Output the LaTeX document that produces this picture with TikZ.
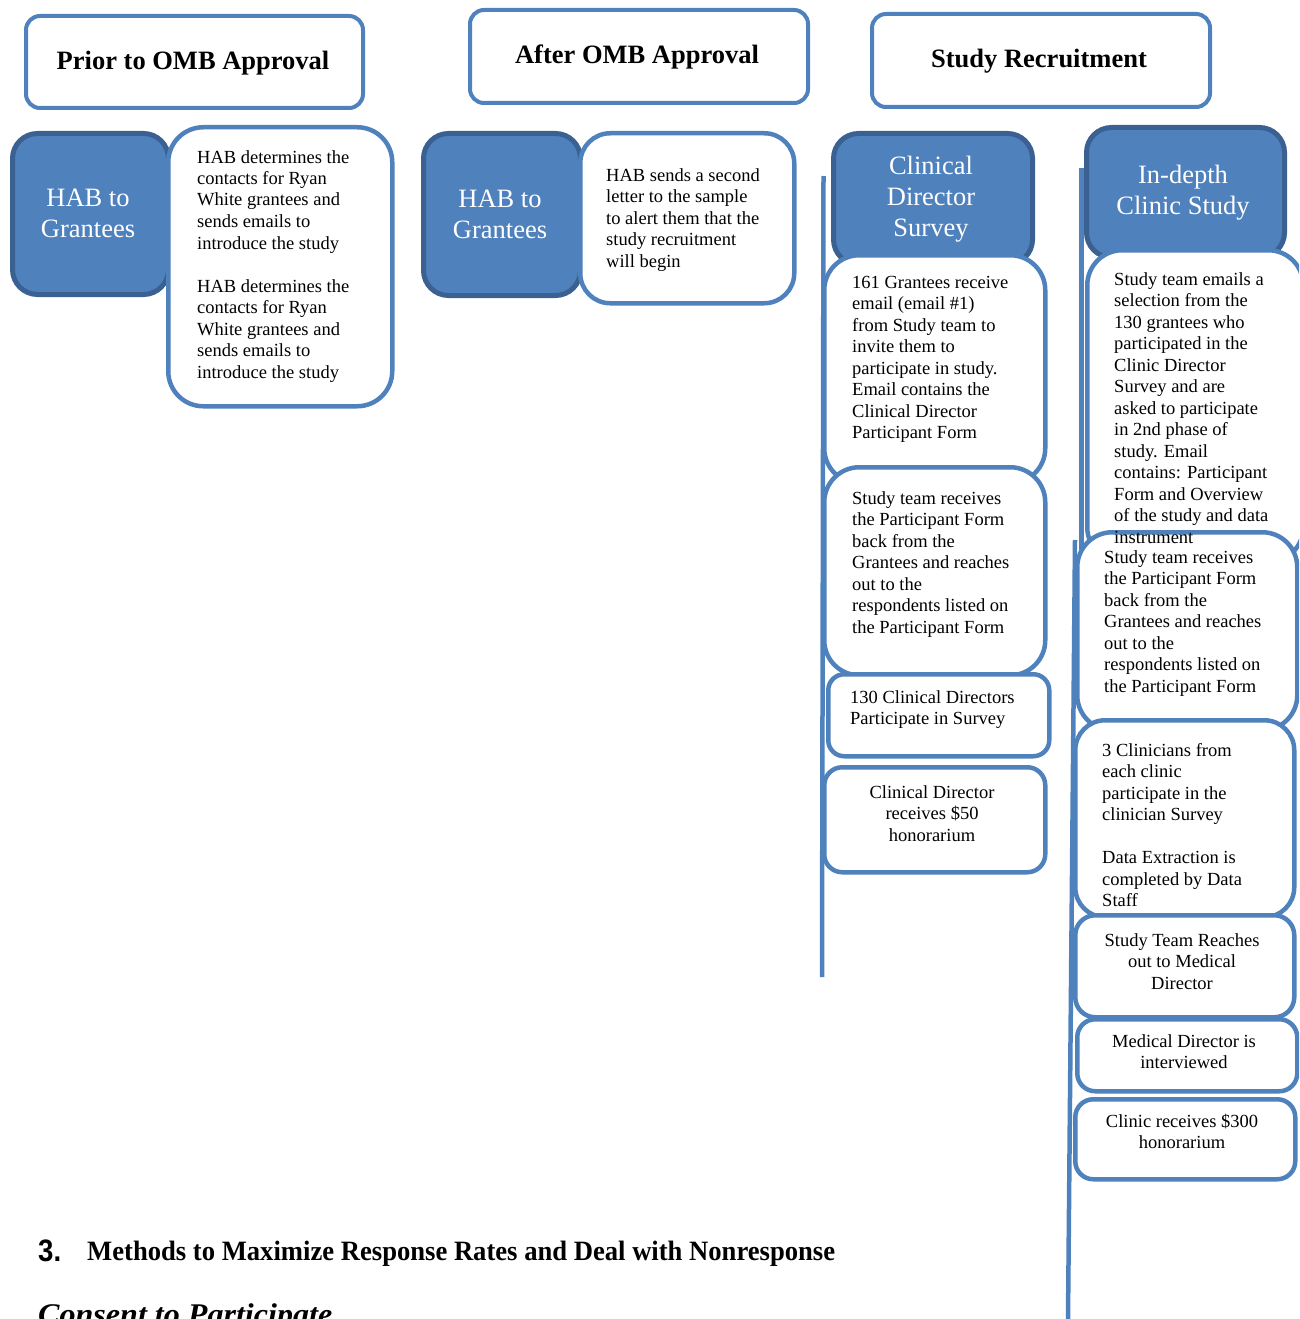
\documentclass[tikz,border=0pt]{standalone}
\usepackage{fontspec}
\usepackage{graphicx}
\setmainfont{Liberation Serif}
\newfontfamily\headsans{Liberation Sans}
\definecolor{boxblue}{HTML}{4F81BD}
\definecolor{darkblue}{HTML}{3A6191}
\tikzset{
  hdrbox/.style={draw=boxblue, line width=4pt, fill=white, rounded corners=14pt, anchor=north west, inner sep=0pt},
  bluebox/.style={draw=darkblue, line width=5pt, fill=boxblue, rounded corners=25pt, anchor=north west, inner sep=0pt},
  wbox/.style={draw=boxblue, line width=4.5pt, fill=white, anchor=north west, inner sep=0pt},
  vline/.style={draw=boxblue, line width=4.5pt},
  txt/.style={inner sep=0pt, font=\fontsize{18.5}{21.5}\selectfont, text=black},
  btxt/.style={inner sep=0pt, font=\fontsize{26.5}{31}\selectfont, text=white},
  htxt/.style={inner sep=0pt, font=\fontsize{26.5}{31}\selectfont\bfseries, text=black}
}
\begin{document}
\begin{tikzpicture}[x=1pt,y=-1pt]
\useasboundingbox (0,0) rectangle (1299,1319);
\clip (0,0) rectangle (1299,1319);
% headers
\node[hdrbox, minimum width=337pt, minimum height=92pt] (h1) at (24,14) {};
\node[htxt, anchor=base] (h1t) at (193,70) {Prior to OMB Approval};
\node[hdrbox, minimum width=338pt, minimum height=93pt] (h2) at (468,8) {};
\node[htxt, anchor=base] (h2t) at (637,64) {After OMB Approval};
\node[hdrbox, minimum width=338pt, minimum height=93pt] (h3) at (870,12) {};
\node[htxt, anchor=base] (h3t) at (1039,68) {Study Recruitment};
% column 1
\node[bluebox, minimum width=156pt, minimum height=161pt] (b1) at (10,131) {};
\node[btxt, anchor=base] (b1t) at (88,206) {\parbox[t]{150pt}{\centering HAB to\\Grantees}};
\node[wbox, rounded corners=35pt, minimum width=224pt, minimum height=279pt] (w1) at (166,125) {};
\node[txt, anchor=base west] (w1t) at (197,163) {\parbox[t]{190pt}{\raggedright HAB determines the\\contacts for Ryan\\White grantees and\\sends emails to\\introduce the study\\[21.5pt]HAB determines the\\contacts for Ryan\\White grantees and\\sends emails to\\introduce the study}};
% column 2
\node[bluebox, minimum width=157pt, minimum height=162pt] (b2) at (421,131) {};
\node[btxt, anchor=base] (b2t) at (500,207) {\parbox[t]{150pt}{\centering HAB to\\Grantees}};
\node[wbox, rounded corners=30pt, minimum width=214pt, minimum height=170pt] (w2) at (578,131) {};
\node[txt, anchor=base west] (w2t) at (606,181) {\parbox[t]{180pt}{\raggedright HAB sends a second\\letter to the sample\\to alert them that the\\study recruitment\\will begin}};
% column 3: Clinical Director Survey
\coordinate (l3top) at (823.5,176);
\coordinate (l3bot) at (822,977);
\draw[vline] (l3top) -- (l3bot);
\node[bluebox, minimum width=199pt, minimum height=131pt] (b3) at (831,131) {};
\node[btxt, anchor=base] (b3t) at (931,174) {\parbox[t]{190pt}{\centering Clinical\\Director\\Survey}};
\node[wbox, rounded corners=35pt, minimum width=221pt, minimum height=228pt] (ca) at (822,253) {};
\node[txt, anchor=base west] (cat) at (852,288) {\parbox[t]{190pt}{\raggedright 161 Grantees receive\\email (email \#1)\\from Study team to\\invite them to\\participate in study.\\Email contains the\\Clinical Director\\Participant Form}};
\node[wbox, rounded corners=35pt, minimum width=221pt, minimum height=208pt] (cb) at (822,465) {};
\node[txt, anchor=base west] (cbt) at (852,504) {\parbox[t]{190pt}{\raggedright Study team receives\\the Participant Form\\back from the\\Grantees and reaches\\out to the\\respondents listed on\\the Participant Form}};
\node[wbox, rounded corners=16pt, minimum width=221pt, minimum height=82pt] (cc) at (826,672) {};
\node[txt, anchor=base west] (cct) at (850,703) {\parbox[t]{190pt}{\raggedright 130 Clinical Directors\\Participate in Survey}};
\node[wbox, rounded corners=18pt, minimum width=221pt, minimum height=105pt] (cd) at (822,765) {};
\node[txt, anchor=base] (cdt) at (932,798) {\parbox[t]{200pt}{\centering Clinical Director\\receives \$50\\honorarium}};
% column 4: In-depth Clinic Study
\coordinate (l4top) at (1081.5,168);
\coordinate (l4bot) at (1081.5,560);
\draw[vline] (l4top) -- (l4bot);
\coordinate (l5top) at (1075,540);
\coordinate (l5bot) at (1068,1319);
\draw[vline] (l5top) -- (l5bot);
\node[bluebox, minimum width=198pt, minimum height=130pt] (b4) at (1084,125) {};
\node[btxt, anchor=base] (b4t) at (1183,183) {\parbox[t]{195pt}{\centering In-depth\\Clinic Study}};
\node[wbox, rounded corners=35pt, minimum width=216pt, minimum height=312pt] (ia) at (1085,248) {};
\node[wbox, rounded corners=35pt, minimum width=220pt, minimum height=198pt] (ib) at (1075,530) {};
\node[txt, anchor=base west] (iat) at (1114,285) {\parbox[t]{180pt}{\raggedright Study team emails a\\selection from the\\130 grantees who\\participated in the\\Clinic Director\\Survey and are\\asked to participate\\in 2nd phase of\\study. Email\\contains: Participant\\Form and Overview\\of the study and data\\instrument}};
\node[txt, anchor=base west] (ibt) at (1104,563) {\parbox[t]{185pt}{\raggedright Study team receives\\the Participant Form\\back from the\\Grantees and reaches\\out to the\\respondents listed on\\the Participant Form}};
\node[wbox, rounded corners=30pt, minimum width=219pt, minimum height=197pt] (ic) at (1073,718) {};
\node[txt, anchor=base west] (ict) at (1102,756) {\parbox[t]{185pt}{\raggedright 3 Clinicians from\\each clinic\\participate in the\\clinician Survey\\[21.5pt]Data Extraction is\\completed by Data\\Staff}};
\node[wbox, rounded corners=20pt, minimum width=219pt, minimum height=102pt] (id) at (1073,913) {};
\node[txt, anchor=base] (idt) at (1182,946) {\parbox[t]{210pt}{\centering Study Team Reaches\\out to Medical\\Director}};
\node[wbox, rounded corners=18pt, minimum width=220pt, minimum height=72pt] (ie) at (1075,1017) {};
\node[txt, anchor=base] (iet) at (1184,1047) {\parbox[t]{210pt}{\centering Medical Director is\\interviewed}};
\node[wbox, rounded corners=18pt, minimum width=220pt, minimum height=80pt] (if) at (1073,1097) {};
\node[txt, anchor=base] (ift) at (1182,1127) {\parbox[t]{210pt}{\centering Clinic receives \$300\\honorarium}};
% text below
\node[inner sep=0pt, anchor=base west, font=\fontsize{31}{34}\selectfont\headsans\bfseries] (num) at (38,1261) {\resizebox{23pt}{\height}{3.}};
\node[inner sep=0pt, anchor=base west, font=\fontsize{28}{32}\selectfont\bfseries] (sec) at (87,1260) {\resizebox{748pt}{\height}{Methods to Maximize Response Rates and Deal with Nonresponse}};
\node[inner sep=0pt, anchor=base west, font=\fontsize{30}{34}\selectfont\bfseries\itshape] (cons) at (38,1324) {\resizebox{294pt}{\height}{Consent to Participate}};
\end{tikzpicture}
\end{document}
